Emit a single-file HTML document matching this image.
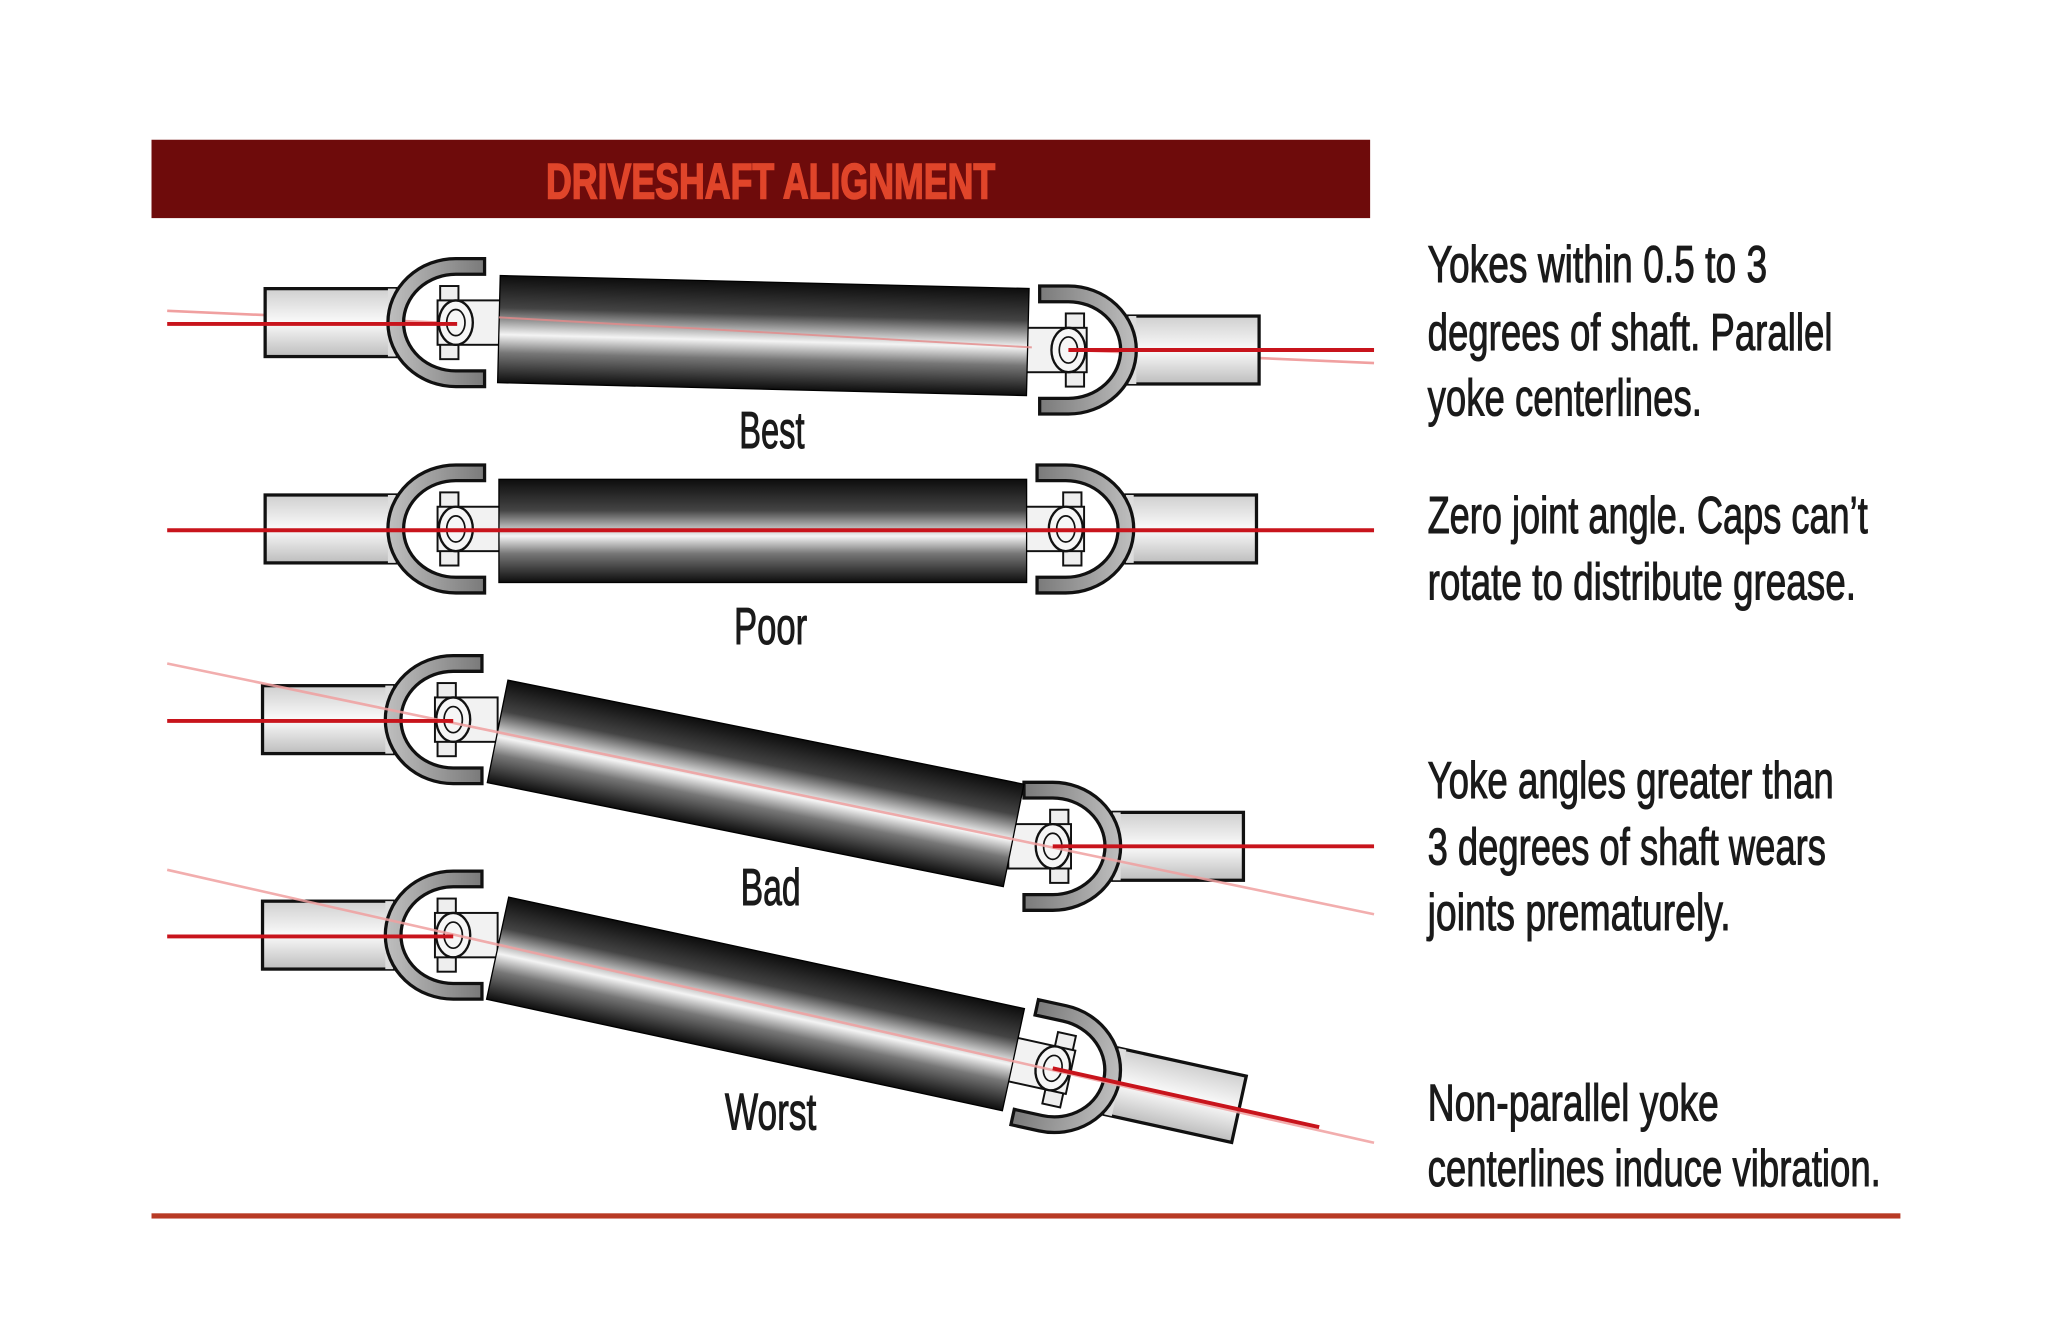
<!DOCTYPE html>
<html><head><meta charset="utf-8"><style>html,body{margin:0;padding:0;background:#fff}svg{display:block}</style></head>
<body>
<svg width="2048" height="1340" viewBox="0 0 1568 1026" preserveAspectRatio="none" xmlns="http://www.w3.org/2000/svg">
<defs>
<linearGradient id="tube" x1="0" y1="0" x2="0" y2="1">
<stop offset="0" stop-color="#0d0d0d"/><stop offset="0.3" stop-color="#444"/><stop offset="0.55" stop-color="#f4f4f4"/><stop offset="0.72" stop-color="#777"/><stop offset="1" stop-color="#0d0d0d"/>
</linearGradient>
<linearGradient id="stub" x1="0" y1="0" x2="0" y2="1">
<stop offset="0" stop-color="#cfcfcf"/><stop offset="0.5" stop-color="#fafafa"/><stop offset="1" stop-color="#bdbdbd"/>
</linearGradient>
<linearGradient id="yoke" x1="0" y1="0" x2="1" y2="0">
<stop offset="0" stop-color="#bfbfbf"/><stop offset="1" stop-color="#7a7a7a"/>
</linearGradient>
<g id="joint">
<rect x="-146" y="-26" width="100" height="52" fill="url(#stub)" stroke="#111" stroke-width="2.5"/>
<path d="M-52,-26 L-46,-26 L-46,26 L-52,26 Z" fill="#ddd"/>
<path d="M22,-49 L0,-49 A52,49 0 0 0 0,49 L22,49 L22,37 L0,37 A40,37 0 0 1 0,-37 L22,-37 Z" fill="url(#yoke)" stroke="#111" stroke-width="2.5"/>
<rect x="-12" y="-28" width="14" height="56" fill="#eee" stroke="#111" stroke-width="1.5"/>
<rect x="-14" y="-17" width="48" height="34" fill="#f2f2f2" stroke="#111" stroke-width="1.5"/>
<ellipse cx="0" cy="0" rx="13" ry="17" fill="#f6f6f6" stroke="#111" stroke-width="1.8"/>
<ellipse cx="0" cy="0" rx="7" ry="10" fill="none" stroke="#111" stroke-width="1.3"/>
</g>
</defs>

<rect x="116" y="107" width="933" height="60" fill="#6e0b0b"/>
<text x="418" y="152" textLength="344" lengthAdjust="spacingAndGlyphs" font-family="Liberation Sans, sans-serif" font-weight="bold" font-size="38" fill="#e0452a" stroke="#e0452a" stroke-width="1.2">DRIVESHAFT ALIGNMENT</text>

<!-- Best -->
<line x1="128" y1="238" x2="1052" y2="278" stroke="#f0a0a0" stroke-width="2"/>
<use href="#joint" transform="translate(349,247)"/>
<use href="#joint" transform="translate(818,268) scale(-1,1)"/>
<g transform="translate(382,252) rotate(1.4)"><rect x="0" y="-41" width="405" height="82" fill="url(#tube)" stroke="#000" stroke-width="1"/></g>
<line x1="382" y1="243" x2="790" y2="266" stroke="#e58a8a" stroke-width="1.5" opacity="0.8"/>
<line x1="128" y1="248" x2="350" y2="248" stroke="#c8141c" stroke-width="3"/>
<line x1="818" y1="268" x2="1052" y2="268" stroke="#c8141c" stroke-width="3"/>

<!-- Poor -->
<use href="#joint" transform="translate(349,405)"/>
<use href="#joint" transform="translate(816,405) scale(-1,1)"/>
<rect x="382" y="367" width="404" height="79" fill="url(#tube)" stroke="#000" stroke-width="1"/>
<line x1="128" y1="406" x2="1052" y2="406" stroke="#c8141c" stroke-width="3"/>

<!-- Bad -->
<use href="#joint" transform="translate(347,551)"/>
<use href="#joint" transform="translate(806,648) scale(-1,1)"/>
<g transform="translate(381,560) rotate(11.4)"><rect x="0" y="-40" width="403" height="80" fill="url(#tube)" stroke="#000" stroke-width="1"/></g>
<line x1="128" y1="508" x2="1052" y2="700" stroke="#f0a0a0" stroke-width="2" opacity="0.85"/>
<line x1="128" y1="552" x2="347" y2="552" stroke="#c8141c" stroke-width="3"/>
<line x1="806" y1="648" x2="1052" y2="648" stroke="#c8141c" stroke-width="3"/>

<!-- Worst -->
<use href="#joint" transform="translate(347,716)"/>
<use href="#joint" transform="translate(806,818) rotate(12.4) scale(-1,1)"/>
<g transform="translate(381,726) rotate(12.2)"><rect x="0" y="-40" width="404" height="80" fill="url(#tube)" stroke="#000" stroke-width="1"/></g>
<line x1="128" y1="666" x2="1052" y2="875" stroke="#f0a0a0" stroke-width="2" opacity="0.85"/>
<line x1="128" y1="717" x2="347" y2="717" stroke="#c8141c" stroke-width="3"/>
<line x1="806" y1="818" x2="1010" y2="863" stroke="#c8141c" stroke-width="3"/>

<g font-family="Liberation Sans, sans-serif" font-size="40" fill="#1a1a1a" stroke="#1a1a1a" stroke-width="0.8">
<text x="566" y="343" textLength="50" lengthAdjust="spacingAndGlyphs">Best</text>
<text x="562" y="493" textLength="56" lengthAdjust="spacingAndGlyphs">Poor</text>
<text x="567" y="693" textLength="46" lengthAdjust="spacingAndGlyphs">Bad</text>
<text x="555" y="865" textLength="70" lengthAdjust="spacingAndGlyphs">Worst</text>

<text x="1093" y="216" textLength="260" lengthAdjust="spacingAndGlyphs">Yokes within 0.5 to 3</text>
<text x="1093" y="268" textLength="310" lengthAdjust="spacingAndGlyphs">degrees of shaft. Parallel</text>
<text x="1093" y="318" textLength="210" lengthAdjust="spacingAndGlyphs">yoke centerlines.</text>
<text x="1093" y="408" textLength="337" lengthAdjust="spacingAndGlyphs">Zero joint angle. Caps can’t</text>
<text x="1093" y="459" textLength="328" lengthAdjust="spacingAndGlyphs">rotate to distribute grease.</text>
<text x="1093" y="611" textLength="311" lengthAdjust="spacingAndGlyphs">Yoke angles greater than</text>
<text x="1093" y="662" textLength="305" lengthAdjust="spacingAndGlyphs">3 degrees of shaft wears</text>
<text x="1093" y="712" textLength="232" lengthAdjust="spacingAndGlyphs">joints prematurely.</text>
<text x="1093" y="858" textLength="223" lengthAdjust="spacingAndGlyphs">Non-parallel yoke</text>
<text x="1093" y="908" textLength="347" lengthAdjust="spacingAndGlyphs">centerlines induce vibration.</text>
</g>

<rect x="116" y="929" width="1339" height="4" fill="#b83a25"/>
</svg>
</body></html>
